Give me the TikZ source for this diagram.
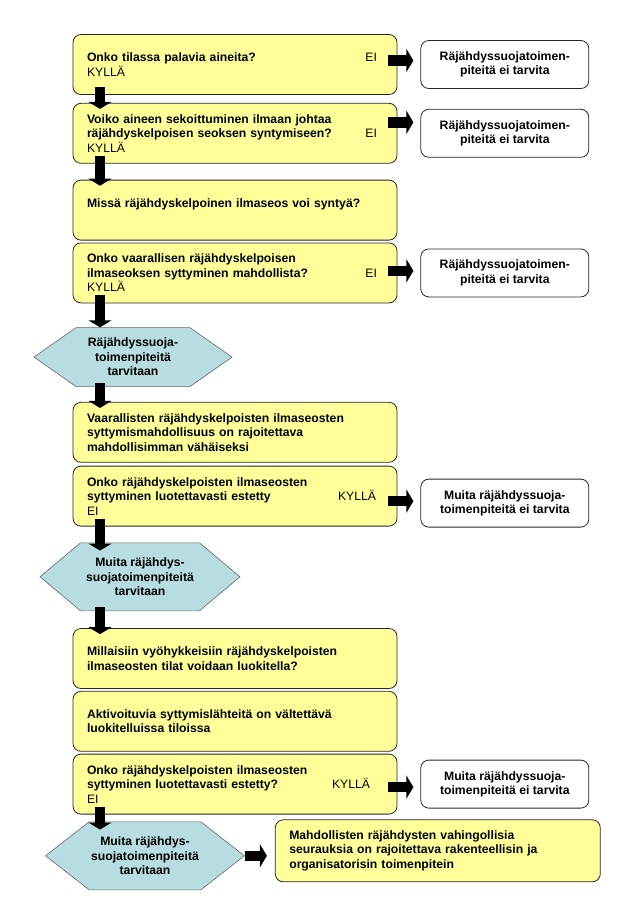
\documentclass[tikz,border=0pt]{standalone}
\usepackage{fontspec}
\setmainfont{Liberation Sans}
\usetikzlibrary{positioning}
\usetikzlibrary{calc}
\usetikzlibrary{arrows.meta}
\usetikzlibrary{shapes.symbols}

\definecolor{qyellow}{RGB}{255,255,153}
\definecolor{hexblue}{RGB}{183,221,224}

\newcommand{\ans}[1]{{\mdseries #1}}

\begin{document}
\begin{tikzpicture} [
    x=1pt, y=-1pt,              % pixel-like units, y going down
    font=\fontsize{12.2}{14.5}\selectfont\bfseries,
    ]
% -------------------------------------------------
\tikzset{
  base/.style={draw=black!85, rounded corners=8pt, line width=0.8pt},
  rect/.style={base, fill=qyellow, text width=296pt, inner xsep=14pt, minimum height=60pt, align=left},
  note/.style={base, fill=white, minimum width=168pt, minimum height=48pt, align=center},
  hexa/.style={draw=black!60, line width=0.6pt, fill=hexblue, shape=signal, signal to=west and east, align=center, inner sep=2pt},
  line/.style={draw, line width=10.5pt, -{Triangle[width=23pt,length=7pt]}}
}
\useasboundingbox (0,0) rectangle (640,919);

    \node [rect] (q1) at (235,64.5) {Onko tilassa palavia aineita?\hfill\ans{EI}\hspace*{6pt}\null\\ \ans{KYLLÄ}};
    \node [rect, below=8pt of q1] (q2) {Voiko aineen sekoittuminen ilmaan johtaa\\ räjähdyskelpoisen seoksen syntymiseen?\hfill\ans{EI}\hspace*{6pt}\null\\ \ans{KYLLÄ}};
    \node [rect, below=16pt of q2] (q3) {Missä räjähdyskelpoinen ilmaseos voi syntyä?\\ \mbox{}};
    \node [rect, below=2pt of q3] (q4) {Onko vaarallisen räjähdyskelpoisen\\ ilmaseoksen syttyminen mahdollista?\hfill\ans{EI}\hspace*{6pt}\null\\ \ans{KYLLÄ}};
    \node [hexa, minimum width=198pt, minimum height=59pt, signal pointer angle=70, below=24pt of q4, xshift=-102pt] (h1) {Räjähdyssuoja-\\toimenpiteitä\\tarvitaan};
    \node [rect, below=15pt of h1, xshift=102pt] (q5) {Vaarallisten räjähdyskelpoisten ilmaseosten\\ syttymismahdollisuus on rajoitettava\\ mahdollisimman vähäiseksi};
    \node [rect, below=3pt of q5] (q6) {Onko räjähdyskelpoisten ilmaseosten\\ syttyminen luotettavasti estetty\hfill\ans{KYLLÄ}\hspace*{7pt}\null\\ \ans{EI}};
    \node [hexa, minimum width=200pt, minimum height=68pt, signal pointer angle=80, below=16pt of q6, xshift=-95pt] (h2) {Muita räjähdys-\\suojatoimenpiteitä\\tarvitaan};
    \node [rect, below=17pt of h2, xshift=95pt] (q7) {Millaisiin vyöhykkeisiin räjähdyskelpoisten\\ ilmaseosten tilat voidaan luokitella?};
    \node [rect, below=2pt of q7] (q8) {Aktivoituvia syttymislähteitä on vältettävä\\ luokitelluissa tiloissa};
    \node [rect, below=2pt of q8] (q9) {Onko räjähdyskelpoisten ilmaseosten\\ syttyminen luotettavasti estetty?\hfill\ans{KYLLÄ}\hspace*{13pt}\null\\ \ans{EI}};
    \node [hexa, minimum width=186pt, minimum height=68pt, signal pointer angle=76, below=7pt of q9, xshift=-90pt] (h3) {Muita räjähdys-\\suojatoimenpiteitä\\tarvitaan};
    \node [rect, text width=297pt, minimum height=62pt, right=30pt of h3, yshift=5pt] (fin) {Mahdollisten räjähdysten vahingollisia\\ seurauksia on rajoitettava rakenteellisin ja\\ organisatorisin toimenpitein};

    \node [note, right=23pt of q1] (w1) {Räjähdyssuojatoimen-\\piteitä ei tarvita};
    \node [note, right=23pt of q2] (w2) {Räjähdyssuojatoimen-\\piteitä ei tarvita};
    \node [note, right=23pt of q4] (w3) {Räjähdyssuojatoimen-\\piteitä ei tarvita};
    \node [note, right=23pt of q6, yshift=-7pt] (w4) {Muita räjähdyssuoja-\\toimenpiteitä ei tarvita};
    \node [note, right=23pt of q9] (w5) {Muita räjähdyssuoja-\\toimenpiteitä ei tarvita};

    \coordinate (ax) at (100,0);   % column of the down arrows

    \path [line] ($(q1.south -| ax)+(0,-8)$) -- ($(q2.north -| ax)+(0,6)$);
    \path [line] ($(q2.south -| ax)+(0,-8)$) -- ($(q3.north -| ax)+(0,6)$);
    \path [line] ($(q4.south -| ax)+(0,-8)$) -- ($(h1.north -| ax)+(0,0)$);
    \path [line] ($(h1.south -| ax)+(0,-4)$) -- ($(q5.north -| ax)+(0,6)$);
    \path [line] ($(q6.south -| ax)+(0,-8)$) -- ($(h2.north -| ax)+(0,8)$);
    \path [line] ($(h2.south -| ax)+(0,-4)$) -- ($(q7.north -| ax)+(0,6)$);
    \path [line] ($(q9.south -| ax)+(0,-8)$) -- ($(h3.north -| ax)+(0,8)$);

    \path [line] ($(q1.east)+(-9,-4)$) -- ($(q1.east -| w1.west)+(-7,-4)$);
    \path [line] ($(q2.east)+(-9,-11)$) -- ($(q2.east -| w2.west)+(-7,-11)$);
    \path [line] ($(q4.east)+(-9,-2)$) -- ($(q4.east -| w3.west)+(-7,-2)$);
    \path [line] ($(q6.east)+(-9,5)$) -- ($(q6.east -| w4.west)+(-7,5)$);
    \path [line] ($(q9.east)+(-9,3)$) -- ($(q9.east -| w5.west)+(-7,3)$);
    \path [line] ($(h3.east)+(0,0)$) -- ($(fin.west |- h3.east)+(-8,0)$);

\end{tikzpicture}
\end{document}
